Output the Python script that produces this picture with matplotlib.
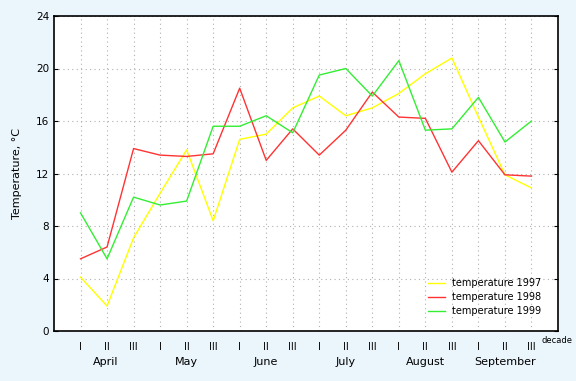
"""Decade mean temperatures, April-September, 1997-1999."""

import matplotlib.pyplot as plt

months = ["April", "May", "June", "July", "August", "September"]
decades = ["I", "II", "III"]

temp_1997 = [4.1, 1.9, 7.1, 10.5, 13.8, 8.4, 14.6, 15.0, 17.0, 17.9, 16.4, 17.0,
             18.1, 19.6, 20.8, 16.3, 11.9, 10.9]
temp_1998 = [5.5, 6.4, 13.9, 13.4, 13.3, 13.5, 18.5, 13.0, 15.4, 13.4, 15.3, 18.2,
             16.3, 16.2, 12.1, 14.5, 11.9, 11.8]
temp_1999 = [9.0, 5.5, 10.2, 9.6, 9.9, 15.6, 15.6, 16.4, 15.1, 19.5, 20.0, 17.9,
             20.6, 15.3, 15.4, 17.8, 14.4, 16.0]

bg = "#eaf5fc"


def main():
    fig = plt.figure(figsize=(5.76, 3.81), dpi=100, facecolor=bg)
    ax = fig.add_axes([54 / 576, 50 / 381, 504 / 576, 315 / 381])
    ax.set_facecolor("white")

    x = list(range(len(temp_1997)))
    ax.plot(x, temp_1997, color="#ffff00", lw=1, label="temperature 1997")
    ax.plot(x, temp_1998, color="#ff3333", lw=1, label="temperature 1998")
    ax.plot(x, temp_1999, color="#33ee33", lw=1, label="temperature 1999")

    ax.set_xlim(-1, 18)
    ax.set_ylim(0, 24)
    ax.set_yticks(range(0, 25, 4))
    ax.set_xticks(x)
    ax.set_xticklabels(decades * len(months), fontsize=7)
    ax.tick_params(axis="x", length=0, pad=8)
    ax.tick_params(axis="y", direction="in", right=True, length=3, labelsize=7.5)
    ax.grid(True, linestyle=(0, (1, 3)), color="#b0b0b0", lw=0.8)
    for s in ax.spines.values():
        s.set_color("black")
        s.set_linewidth(1.2)

    ax.set_ylabel("Temperature, °C", fontsize=8, labelpad=10)

    for i, m in enumerate(months):
        xm = 3 * i + 1 - (0.05 if i == 0 else 0)
        ax.text(xm, -0.098, m, transform=ax.get_xaxis_transform(),
                ha="center", va="center", fontsize=8)
    ax.text(0.998, -0.031, "decade", transform=ax.transAxes, ha="center",
            va="center", fontsize=6)

    ax.legend(loc="lower right", bbox_to_anchor=(0.985, 0.02), frameon=False,
              fontsize=7, handlelength=1.7, labelspacing=0.4)

    fig.savefig("out.png", dpi=100, facecolor=bg)


if __name__ == "__main__":
    main()
